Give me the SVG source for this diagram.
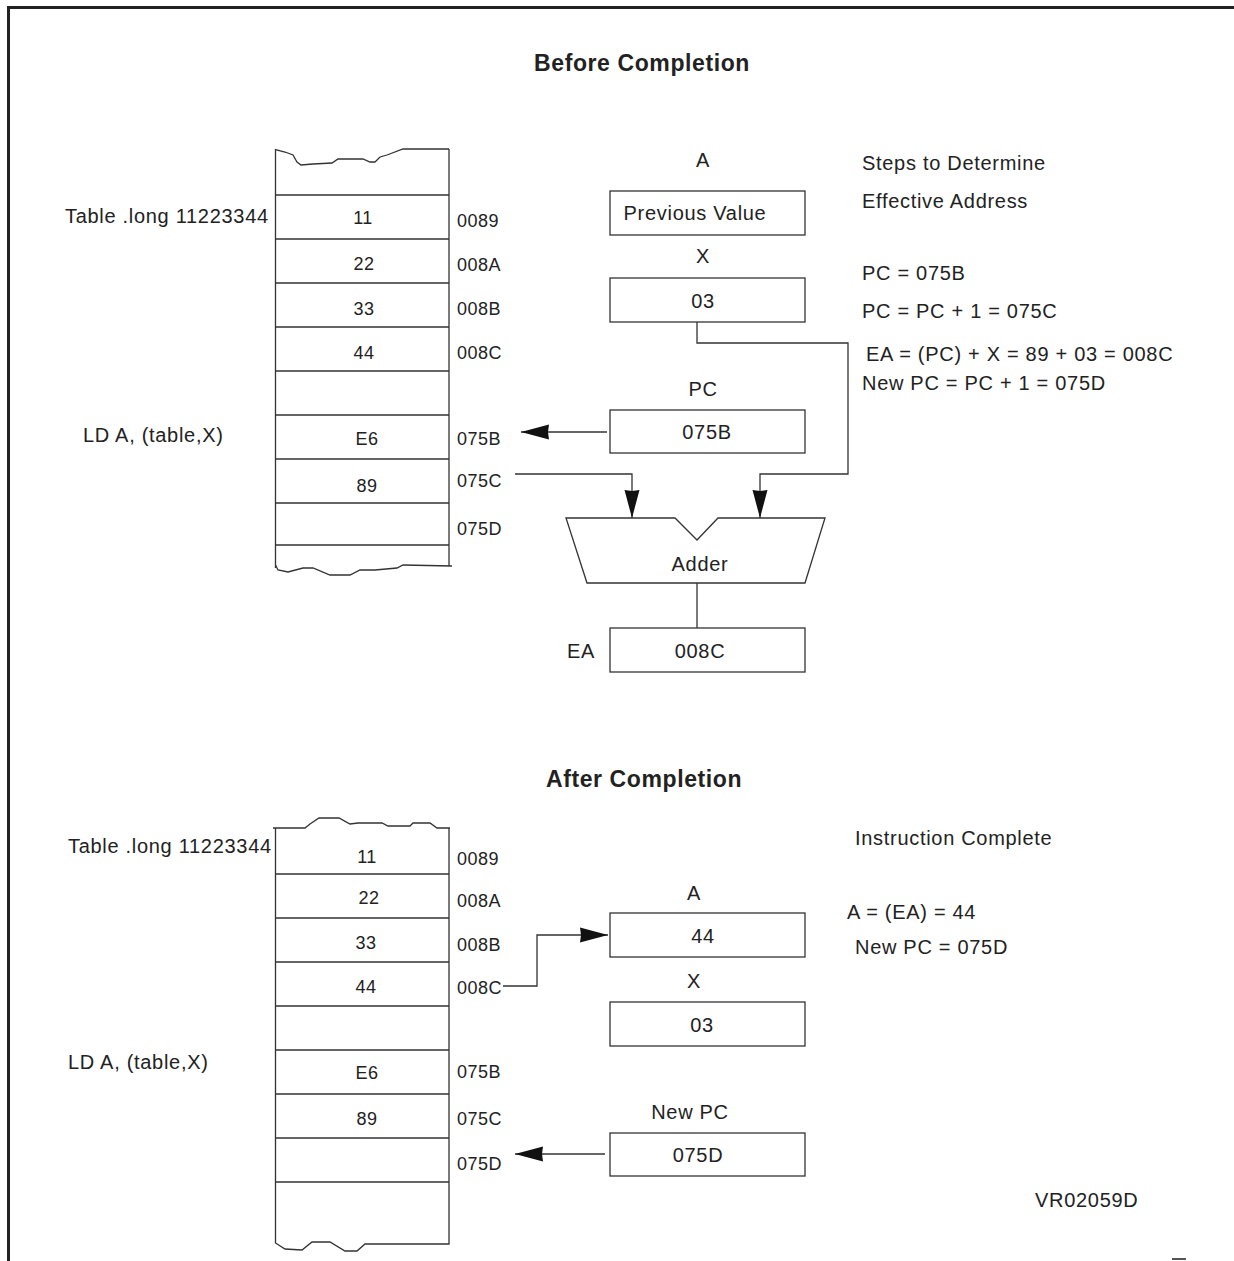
<svg xmlns="http://www.w3.org/2000/svg" width="1234" height="1261" viewBox="0 0 1234 1261">
<defs>
<style>
.t{font-family:"Liberation Sans",Arial,sans-serif;font-size:20px;letter-spacing:0.7px;fill:#222}
.m{font-family:"Liberation Sans",Arial,sans-serif;font-size:18px;letter-spacing:0.5px;fill:#222}
.h{font-family:"Liberation Sans",Arial,sans-serif;font-size:23px;letter-spacing:0.6px;font-weight:bold;fill:#222}
.c{text-anchor:middle}
.ln{fill:none;stroke:#333;stroke-width:1.3}
.bx{fill:#fff;stroke:#333;stroke-width:1.3}
</style>
<marker id="ah" viewBox="0 0 28 16" refX="28" refY="8" markerWidth="28" markerHeight="16" markerUnits="userSpaceOnUse" orient="auto">
<path d="M0,0.5 L28,8 L0,15.5 L1,8 Z" fill="#111"/>
</marker>
</defs>
<rect width="1234" height="1261" fill="#fff"/>
<g id="frame">
<path d="M7,7.5 H1234 M8.5,6 V1261" fill="none" stroke="#222" stroke-width="3"/>
<path d="M1172,1259 H1186" stroke="#555" stroke-width="2"/>
</g>
<text class="h c" x="642" y="71">Before Completion</text>
<text class="h c" x="644" y="787">After Completion</text>

<g id="memory-before">
<path class="ln" d="M449,149 H403 L387,155 L380,157 L375,162 L370,162 L363,159 H338 L332,163 L313,164 L301,165 L297,162 L293,155 L285,152 L275.5,149.5 V568"/>
<path class="ln" d="M449,149 V566"/>
<path class="ln" d="M275.5,565 L278,570 L288,572 L303,568 L313,568 L330,575 L350,575 L360,570 L375,570 L397,568 L403,565 L452,566"/>
<path class="ln" d="M275,195 H449 M275,239 H449 M275,283 H449 M275,327 H449 M275,371 H449 M275,415 H449 M275,459 H449 M275,503 H449 M275,545 H449"/>
<text class="m c" x="363" y="224">11</text>
<text class="m c" x="364" y="270">22</text>
<text class="m c" x="364" y="315">33</text>
<text class="m c" x="364" y="359">44</text>
<text class="m c" x="367" y="445">E6</text>
<text class="m c" x="367" y="492">89</text>
<text class="m" x="457" y="227">0089</text>
<text class="m" x="457" y="271">008A</text>
<text class="m" x="457" y="315">008B</text>
<text class="m" x="457" y="359">008C</text>
<text class="m" x="457" y="445">075B</text>
<text class="m" x="457" y="487">075C</text>
<text class="m" x="457" y="535">075D</text>
<text class="t" x="65" y="223">Table .long 11223344</text>
<text class="t" x="83" y="442">LD A, (table,X)</text>
</g>

<g id="reg-a-before">
<text class="t c" x="703" y="167">A</text>
<rect class="bx" x="610" y="191" width="195" height="44"/>
<text class="t c" x="695" y="220">Previous Value</text>
</g>
<g id="reg-x-before">
<text class="t c" x="703" y="263">X</text>
<rect class="bx" x="610" y="278" width="195" height="44"/>
<text class="t c" x="703" y="308">03</text>
</g>
<g id="reg-pc-before">
<text class="t c" x="703" y="396">PC</text>
<rect class="bx" x="610" y="410" width="195" height="43"/>
<text class="t c" x="707" y="439">075B</text>
</g>
<g id="adder">
<path class="bx" d="M566,518 H675 L697,540 L718,518 H825 L805,583 H587 Z"/>
<text class="t c" x="700" y="571">Adder</text>
</g>
<g id="reg-ea">
<text class="t c" x="581" y="658">EA</text>
<rect class="bx" x="610" y="628" width="195" height="44"/>
<text class="t c" x="700" y="658">008C</text>
</g>
<g id="steps">
<text class="t" x="862" y="170">Steps to Determine</text>
<text class="t" x="862" y="208">Effective Address</text>
<text class="t" x="862" y="280">PC = 075B</text>
<text class="t" x="862" y="318">PC = PC + 1 = 075C</text>
<text class="t" x="866" y="361">EA = (PC) + X = 89 + 03 = 008C</text>
<text class="t" x="862" y="390">New PC = PC + 1 = 075D</text>
</g>

<g id="memory-after">
<path class="ln" d="M450,828 H437 L430,823 H413 L410,826 H388 L382,823 H358 L350,824 L339,818 H319 L310,824 L305,828 H273"/>
<path class="ln" d="M275.5,828 V1243 L285,1249 L302,1250 L312,1242 H330 L345,1251 H357 L365,1244 H449 V828"/>
<path class="ln" d="M275,874 H449 M275,918 H449 M275,962 H449 M275,1006 H449 M275,1050 H449 M275,1094 H449 M275,1138 H449 M275,1182 H449"/>
<text class="m c" x="367" y="863">11</text>
<text class="m c" x="369" y="904">22</text>
<text class="m c" x="366" y="949">33</text>
<text class="m c" x="366" y="993">44</text>
<text class="m c" x="367" y="1079">E6</text>
<text class="m c" x="367" y="1125">89</text>
<text class="m" x="457" y="865">0089</text>
<text class="m" x="457" y="907">008A</text>
<text class="m" x="457" y="951">008B</text>
<text class="m" x="457" y="994">008C</text>
<text class="m" x="457" y="1078">075B</text>
<text class="m" x="457" y="1125">075C</text>
<text class="m" x="457" y="1170">075D</text>
<text class="t" x="68" y="853">Table .long 11223344</text>
<text class="t" x="68" y="1069">LD A, (table,X)</text>
</g>

<g id="reg-a-after">
<text class="t c" x="694" y="900">A</text>
<rect class="bx" x="610" y="913" width="195" height="44"/>
<text class="t c" x="703" y="943">44</text>
</g>
<g id="reg-x-after">
<text class="t c" x="694" y="988">X</text>
<rect class="bx" x="610" y="1002" width="195" height="44"/>
<text class="t c" x="702" y="1032">03</text>
</g>
<g id="reg-pc-after">
<text class="t c" x="690" y="1119">New PC</text>
<rect class="bx" x="610" y="1133" width="195" height="43"/>
<text class="t c" x="698" y="1162">075D</text>
</g>
<g id="notes-after">
<text class="t" x="855" y="845">Instruction Complete</text>
<text class="t" x="847" y="919">A = (EA) = 44</text>
<text class="t" x="855" y="954">New PC = 075D</text>
<text class="t" x="1035" y="1207">VR02059D</text>
</g>

<g id="connectors">
<path class="ln" d="M697,322 V343 H848 V474 H760 V518" marker-end="url(#ah)"/>
<path class="ln" d="M515,474 H632 V518" marker-end="url(#ah)"/>
<path class="ln" d="M607,432 H521" marker-end="url(#ah)"/>
<path class="ln" d="M697,583 V628"/>
<path class="ln" d="M503,986 H537 V935 H608" marker-end="url(#ah)"/>
<path class="ln" d="M605,1154 H515" marker-end="url(#ah)"/>
</g>
</svg>
